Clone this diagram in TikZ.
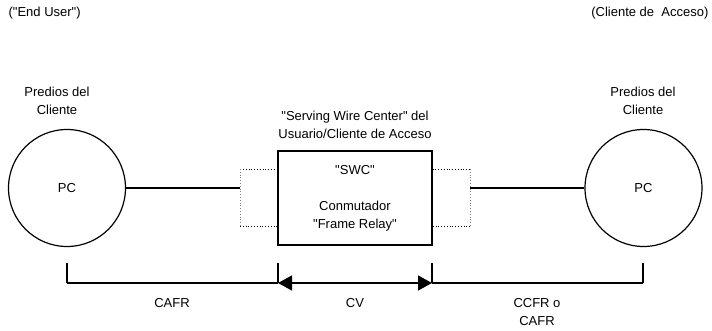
\documentclass[tikz,border=0pt]{standalone}
\usepackage{fontspec}
\setmainfont{Liberation Sans}[Ligatures=TeXOff]
\usetikzlibrary{arrows.meta}

\begin{document}
\begin{tikzpicture}[x=1pt, y=-1pt, font=\fontsize{13}{18}\selectfont, line width=1.2pt,
		pc/.style = {draw, circle, minimum size=117pt, inner sep=0pt},
		label text/.style = {align=center, inner sep=0pt},
		bracket/.style = {line width=0.8pt, dotted},
		span tip/.tip = {Triangle[length=14pt, width=15pt]}]
		\def\linky{188}
		\def\dimy{283}
		\def\ticky{263}

		\useasboundingbox (0,0) rectangle (712,331);

		% top labels
		\node[label text, anchor=west] (end user) at (8,13) {("End User")};
		\node[label text, anchor=east] (access client) at (709,13) {(Cliente de\ \ Acceso)};

		% customer premises and the switch
		\node[pc] (pc left) at (67,\linky) {PC};
		\node[pc] (pc right) at (643.5,\linky) {PC};
		\node[draw, minimum width=154pt, minimum height=94pt, inner sep=0pt] (swc) at (355,198) {};

		\node[label text] (premises left) at (57,101) {Predios del\\Cliente};
		\node[label text] (premises right) at (643,101) {Predios del\\Cliente};
		\node[label text] (swc title) at (355,124.5) {"Serving Wire Center" del\\Usuario/Cliente de Acceso};
		\node[label text] (swc name) at (355,170) {"SWC"};
		\node[label text] (swc switch) at (355,216.5) {Conmutador\\"Frame Relay"};

		% dotted interfaces
		\coordinate (port left) at (240,\linky);
		\coordinate (port right) at (470,\linky);
		\draw[bracket] (swc.west |- 0,169) -- (240,169) (240,226) -- (swc.west |- 0,226);
		\draw[bracket] (swc.east |- 0,169) -- (470,169) (470,226) -- (swc.east |- 0,226);
		\draw[bracket, gray, line width=0.6pt] (240,169) -- (240,226) (470,169) -- (470,226);

		\draw (pc left.east) -- (port left);
		\draw (port right) -- (pc right.west);

		% span markers
		\coordinate (tick a) at (67,\dimy);
		\coordinate (tick b) at (278,\dimy);
		\coordinate (tick c) at (432,\dimy);
		\coordinate (tick d) at (643,\dimy);
		\foreach \t in {tick a, tick b, tick c, tick d}
			\draw (\t) -- ++(0,{\ticky-\dimy});
		\draw (tick a) -- (tick b);
		\draw[span tip-span tip] (tick b) -- (tick c);
		\draw (tick c) -- (tick d);

		\node[label text] (cafr) at (172,303) {CAFR};
		\node[label text] (cv) at (355,303) {CV};
		\node[label text] (ccfr) at (537,312) {CCFR o\\CAFR};
\end{tikzpicture}
\end{document}
